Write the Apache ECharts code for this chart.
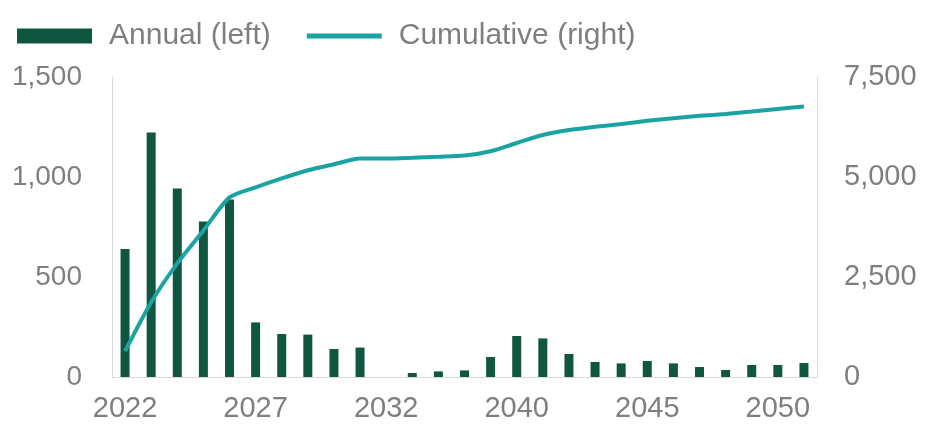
<!DOCTYPE html>
<html>
<head>
<meta charset="utf-8">
<script src="https://cdn.jsdelivr.net/npm/echarts@6/dist/echarts.min.js"></script>
<style>
html,body{margin:0;padding:0;background:#fff;}
#c{width:926px;height:425px;}
</style>
</head>
<body>
<div id="c"></div>
<script>
// Categories (years); labels are shown every 5th category
const years = ['2022','2023','2024','2025','2026','2027','2028','2029','2030','2031','2032',
  '2034','2036','2038','2039','2040','2041','2042','2043','2044','2045','2046','2047','2048','2049','2050','2051'];
// Annual (left axis)
const annual = [640, 1222, 942, 777, 888, 273, 215, 212, 140, 147, 0,
  20, 28, 33, 100, 205, 193, 115, 75, 68, 80, 68, 50, 35, 60, 60, 70];
// Cumulative (right axis)
const cumulative = [645, 1870, 2840, 3660, 4490, 4740, 4965, 5170, 5320, 5460, 5460,
  5480, 5505, 5535, 5645, 5850, 6050, 6175, 6255, 6325, 6405, 6470, 6530, 6575, 6635, 6700, 6765];
const leftTicks = [0, 500, 1000, 1500];
const rightTicks = [0, 2500, 5000, 7500];

const FONT = "'Liberation Sans', Arial, sans-serif";
const GRAY = '#7f7f7f';
const fmt = v => Number(v).toLocaleString('en-US');

const chart = echarts.init(document.getElementById('c'), null, {renderer: 'canvas'});
chart.setOption({
  animation: false,
  textStyle: {fontFamily: FONT},
  legend: {
    left: 12, top: 16,
    itemWidth: 75, itemHeight: 15, itemGap: 36,
    textStyle: {fontSize: 30, color: GRAY, fontFamily: FONT, padding: [0, 0, 0, 12]},
    data: [
      {name: 'Annual (left)', icon: 'rect'},
      {name: 'Cumulative (right)', icon: 'path://M0,0 L75,0 L75,5 L0,5 Z'}
    ]
  },
  grid: {left: 112, right: 109, top: 77, bottom: 48, containLabel: false},
  xAxis: {
    type: 'category', data: years,
    axisLine: {show: true, lineStyle: {color: '#d9d9d9', width: 1}},
    axisTick: {show: false},
    axisLabel: {interval: 4, fontSize: 29, color: GRAY, margin: 17, fontFamily: FONT}
  },
  yAxis: [
    {
      type: 'value', min: leftTicks[0], max: leftTicks[leftTicks.length-1], interval: 500,
      axisLine: {show: true, lineStyle: {color: '#d9d9d9', width: 1}},
      axisTick: {show: false}, splitLine: {show: false},
      axisLabel: {fontSize: 28, color: GRAY, margin: 30, formatter: fmt, fontFamily: FONT}
    },
    {
      type: 'value', min: rightTicks[0], max: rightTicks[rightTicks.length-1], interval: 2500,
      position: 'right',
      axisLine: {show: true, lineStyle: {color: '#d9d9d9', width: 1}},
      axisTick: {show: false}, splitLine: {show: false},
      axisLabel: {fontSize: 29, color: GRAY, margin: 27, formatter: fmt, fontFamily: FONT}
    }
  ],
  series: [
    {
      name: 'Annual (left)', type: 'bar', yAxisIndex: 0, data: annual,
      barWidth: 9, itemStyle: {color: '#0f5740'}
    },
    {
      name: 'Cumulative (right)', type: 'line', yAxisIndex: 1, data: cumulative,
      smooth: 0.25, symbol: 'none',
      lineStyle: {color: '#1ba2a2', width: 4}, itemStyle: {color: '#1ba2a2'}
    }
  ]
});
</script>
</body>
</html>
